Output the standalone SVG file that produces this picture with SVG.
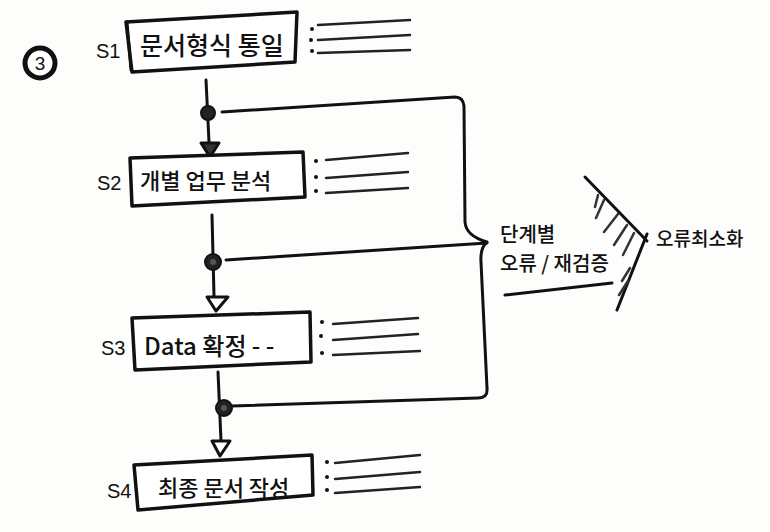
<svg xmlns="http://www.w3.org/2000/svg" width="770" height="532" viewBox="0 0 770 532">
<defs>
<style>
.bg{fill:#fdfdfb}
.box{fill:#fff;stroke:#111;stroke-width:3.5;stroke-linejoin:round}
.ln{fill:none;stroke:#111;stroke-width:3;stroke-linecap:round;stroke-linejoin:round}
.thin{fill:none;stroke:#222;stroke-width:2.5;stroke-linecap:round}
.note{fill:none;stroke:#333;stroke-width:2.5;stroke-linecap:round}
.dot{fill:#111}
.kt{font-family:"Noto Sans CJK KR","Noto Sans",sans-serif;fill:#111;font-weight:500}
.lt{font-family:"Liberation Sans",Arial,sans-serif;fill:#111}
.arr{fill:#fff;stroke:#111;stroke-width:3;stroke-linejoin:round}
.jn{fill:#222;stroke:#111;stroke-width:2}
</style>
</defs>
<rect class="bg" x="0" y="0" width="770" height="532"/>

<g id="badge">
<circle cx="40" cy="63" r="15" fill="#fff" stroke="#111" stroke-width="5"/>
<text class="lt" x="40" y="70" font-size="19" text-anchor="middle">3</text>
</g>

<g id="connectors">
<path class="ln" d="M206,80 L209,142"/>
<path class="arr" d="M201,143 L219,143 L210,157 Z" style="fill:#333"/>
<path class="ln" d="M212,215 L214,296"/>
<path class="arr" d="M207,297 L228,297 L216,311 Z"/>
<path class="ln" d="M218,372 L221,441"/>
<path class="arr" d="M212,441 L230,441 L220,456 Z"/>
<path class="ln" d="M222,112 L455,97 Q463,97 464,106 L465,222 Q466,236 487,242 Q480,248 481,262 L487,388 Q488,398 478,398 L232,406"/>
<path class="ln" d="M226,260 L487,243"/>
<circle class="jn" cx="208" cy="113" r="7"/>
<circle class="jn" cx="213" cy="262" r="8"/>
<circle cx="213" cy="262" r="3" fill="#555"/>
<circle class="jn" cx="224" cy="408" r="8"/>
<circle cx="224" cy="408" r="3" fill="#555"/>
</g>

<g id="s1">
<text class="lt" x="96" y="58" font-size="20">S1</text>
<path class="box" d="M126,22 L297,12 L295,62 L132,72 Z"/>
<path class="ln" d="M127,22 L131,70" stroke-width="2"/>
<text class="kt" x="140" y="55" font-size="25">문서형식 통일</text>
<circle class="dot" cx="312" cy="29" r="2"/><circle class="dot" cx="311" cy="40" r="2"/><circle class="dot" cx="312" cy="51" r="2"/>
<path class="thin" d="M318,25 L410,20 M318,40 L410,35 M318,53 L410,50"/>
</g>

<g id="s2">
<text class="lt" x="97" y="190" font-size="20">S2</text>
<path class="box" d="M130,158 L303,152 L305,197 L132,206 Z"/>
<text class="kt" x="140" y="189" font-size="22">개별 업무 분석</text>
<circle class="dot" cx="316" cy="161" r="2"/><circle class="dot" cx="316" cy="177" r="2"/><circle class="dot" cx="316" cy="191" r="2"/>
<path class="thin" d="M326,160 L408,153 M326,178 L408,172 M326,193 L408,188"/>
</g>

<g id="s3">
<text class="lt" x="101" y="355" font-size="20">S3</text>
<path class="box" d="M132,318 L310,312 L311,362 L135,370 Z"/>
<text class="kt" x="144" y="355" font-size="24">Data 확정 - -</text>
<circle class="dot" cx="322" cy="322" r="2"/><circle class="dot" cx="321" cy="336" r="2"/><circle class="dot" cx="322" cy="353" r="2"/>
<path class="thin" d="M333,324 L418,318 M333,340 L418,334 M333,355 L420,351"/>
</g>

<g id="s4">
<text class="lt" x="107" y="498" font-size="20">S4</text>
<path class="box" d="M134,465 L312,455 L313,495 L138,510 Z"/>
<text class="kt" x="158" y="496" font-size="22">최종 문서 작성</text>
<circle class="dot" cx="327" cy="462" r="2"/><circle class="dot" cx="327" cy="477" r="2"/><circle class="dot" cx="327" cy="490" r="2"/>
<path class="thin" d="M335,463 L420,455 M335,479 L420,472 M335,493 L420,487"/>
</g>

<g id="result">
<text class="kt" x="500" y="242" font-size="20">단계별</text>
<text class="kt" x="500" y="271" font-size="20">오류 / 재검증</text>
<path class="ln" d="M505,295 L612,283"/>
<path class="ln" d="M585,177 L647,241"/>
<path class="ln" d="M647,234 L617,310"/>
<path class="note" d="M598,195 L595,207 M604,200 L596,218 M618,214 L604,232 M627,225 L614,245 M634,233 L623,255 M630,268 L622,281 M628,281 L619,295"/>
<text class="kt" x="656" y="246" font-size="19">오류최소화</text>
</g>
</svg>
